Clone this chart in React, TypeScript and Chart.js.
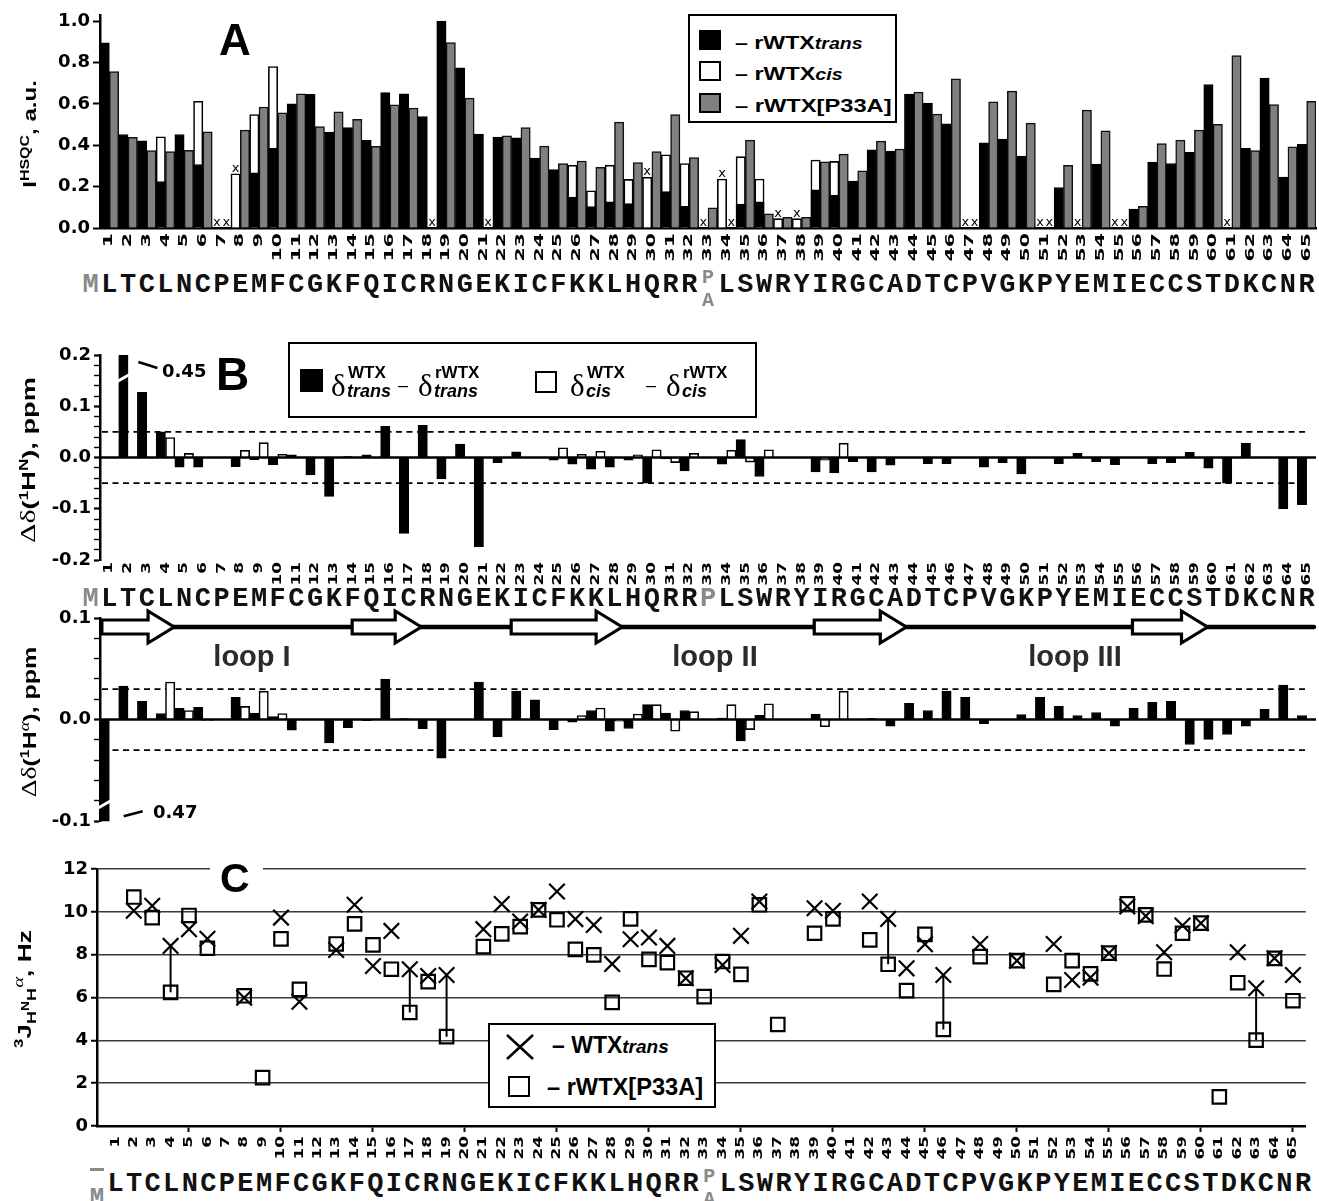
import React, { useEffect, useLayoutEffect, useRef, useState } from "react";
import { Chart, registerables } from "chart.js";

Chart.register(...registerables);

// ---------------- data ----------------
const residueLabels = [
  1, 2, 3, 4, 5, 6, 7, 8, 9, 10, 11, 12, 13, 14, 15, 16, 17, 18, 19, 20,
  21, 22, 23, 24, 25, 26, 27, 28, 29, 30, 31, 32, 33, 34, 35, 36, 37, 38, 39, 40,
  41, 42, 43, 44, 45, 46, 47, 48, 49, 50, 51, 52, 53, 54, 55, 56, 57, 58, 59, 60,
  61, 62, 63, 64, 65,
];
const sequence = "MLTCLNCPEMFCGKFQICRNGEKICFKKLHQRRPLSWRYIRGCADTCPVGKPYEMIECCSTDKCNR";

// Panel A: I(HSQC), a.u.
const hsqcTrans = [
  0.895, 0.452, 0.422, 0.225, 0.452, 0.307, null, null, 0.267, 0.386,
  0.601, 0.646, 0.464, 0.485, 0.424, 0.655, 0.649, 0.539, 1.0, 0.775,
  0.454, 0.44, 0.436, 0.338, 0.282, 0.15, 0.103, 0.127, 0.118, null,
  0.176, 0.105, null, null, 0.116, 0.126, null, null, 0.184, 0.158,
  0.227, 0.378, 0.372, 0.647, 0.604, 0.504, null, 0.412, 0.43, 0.348,
  null, 0.196, null, 0.309, null, 0.092, 0.319, 0.312, 0.366, 0.694,
  null, 0.385, 0.725, 0.246, 0.404,
];
const hsqcCis = [
  null, null, null, 0.441, null, 0.613, null, 0.262, 0.549, 0.781,
  null, null, null, null, null, null, null, null, null, null,
  null, null, null, null, null, 0.303, 0.18, 0.304, 0.235, 0.245,
  0.354, 0.312, null, 0.237, 0.345, 0.237, 0.045, 0.045, 0.329, 0.322,
  null, null, null, null, null, null, null, null, null, null,
  null, null, null, null, null, null, null, null, null, null,
  null, null, null, null, null,
];
const hsqcP33A = [
  0.757, 0.438, 0.374, 0.37, 0.375, 0.465, null, 0.473, 0.585, 0.557,
  0.649, 0.491, 0.562, 0.525, 0.395, 0.596, 0.58, null, 0.897, 0.628,
  null, 0.446, 0.485, 0.396, 0.312, 0.324, 0.293, 0.512, 0.316, 0.369,
  0.549, 0.34, 0.098, null, 0.425, 0.068, 0.052, 0.052, 0.32, 0.357,
  0.277, 0.42, 0.382, 0.657, 0.551, 0.721, null, 0.61, 0.662, 0.507,
  null, 0.303, 0.57, 0.47, null, 0.105, 0.408, 0.425, 0.473, 0.501,
  0.834, 0.374, 0.597, 0.393, 0.613,
];

// Panel B: delta delta (1H N), ppm
const dHNtrans = [
  null, 0.45, 0.127, 0.05, -0.019, -0.019, null, -0.018, -0.004, -0.014,
  0.005, -0.034, -0.076, 0.002, 0.005, 0.061, -0.148, 0.063, -0.042, 0.026,
  -0.174, -0.01, 0.011, null, -0.005, -0.013, -0.023, -0.019, -0.005, -0.05,
  -0.003, -0.026, null, -0.013, 0.035, -0.037, null, null, -0.028, -0.03,
  -0.008, -0.028, -0.015, null, -0.012, -0.012, null, -0.019, -0.01, -0.032,
  null, -0.012, 0.008, -0.008, -0.014, null, -0.012, -0.01, 0.01, -0.021,
  -0.05, 0.028, 0.001, -0.1, -0.092,
];
const dHNcis = [
  null, null, null, 0.039, 0.008, null, null, 0.014, 0.029, 0.006,
  null, null, null, null, null, null, null, null, null, null,
  null, null, null, null, 0.019, 0.006, 0.012, null, 0.005, 0.015,
  -0.01, 0.008, null, 0.014, -0.009, 0.015, null, null, -0.005, 0.028,
  null, null, null, null, null, null, null, null, null, null,
  null, null, null, null, null, null, null, null, null, null,
  null, null, null, null, null,
];
// Panel B: delta delta (1H alpha), ppm
const dHAtrans = [
  -0.47, 0.033, 0.018, 0.006, 0.011, 0.012, null, 0.022, 0.0065, 0.003,
  -0.0105, null, -0.023, -0.008, -0.001, 0.04, 0.001, -0.009, -0.038, null,
  0.037, -0.017, 0.028, 0.0195, -0.0098, -0.0026, 0.009, -0.0114, -0.0088, 0.0147,
  0.0065, 0.009, null, 0.0016, -0.021, 0.0042, null, null, 0.0055, null,
  null, 0.001, -0.0065, 0.016, 0.009, 0.028, 0.022, -0.004, null, 0.005,
  0.022, 0.013, 0.004, 0.007, -0.0065, 0.011, 0.017, 0.018, -0.0245, -0.0195,
  -0.0147, -0.0065, 0.01, 0.034, 0.004,
];
const dHAcis = [
  null, null, null, 0.037, 0.009, -0.001, null, 0.013, 0.028, 0.006,
  null, null, null, null, null, null, null, null, null, null,
  null, null, null, null, null, 0.004, 0.0114, -0.0016, 0.0055, 0.0147,
  -0.0114, 0.0078, null, 0.0147, -0.0098, 0.0156, null, null, -0.007, 0.028,
  null, null, null, null, null, null, null, null, null, null,
  null, null, null, null, null, null, null, null, null, null,
  null, null, null, null, null,
];
// beta strands (start, end) in residue units
const betaStrands = [
  [0.6, 4.46],
  [13.98, 17.67],
  [22.48, 28.41],
  [38.68, 43.6],
  [55.69, 59.7],
];

// Panel C: 3J(HN-Halpha), Hz
const jTrans = [
  null, 10.05, 10.28, 8.41, 9.19, 8.74, null, 5.99, null, 9.73,
  5.8, null, 8.22, 10.33, 7.47, 9.11, 7.32, 7.0, 7.05, null,
  9.19, 10.36, 9.55, 10.09, 10.95, 9.66, 9.39, 7.57, 8.72, 8.8,
  8.41, 6.9, null, 7.52, 8.88, 10.48, null, null, 10.17, 10.05,
  null, 10.48, 9.67, 7.36, 8.49, 7.05, null, 8.5, null, 7.72,
  null, 8.5, 6.82, 6.93, 8.07, 10.25, 9.8, 8.11, 9.36, 9.47,
  null, 8.11, 6.43, 7.83, 7.05,
];
const jP33A = [
  null, 10.69, 9.73, 6.24, 9.83, 8.3, null, 6.08, 2.26, 8.74,
  6.38, null, 8.5, 9.44, 8.46, 7.32, 5.3, 6.74, 4.17, null,
  8.38, 8.97, 9.31, 10.09, 9.63, 8.25, 7.99, 5.77, 9.67, 7.78,
  7.63, 6.9, 6.04, 7.68, 7.08, 10.33, 4.74, null, 9.0, 9.67,
  null, 8.69, 7.55, 6.32, 8.95, 4.51, null, 7.91, null, 7.72,
  null, 6.61, 7.72, 7.1, 8.07, 10.37, 9.86, 7.33, 9.0, 9.47,
  1.36, 6.69, 4.01, 7.83, 5.85,
];
const jLinked = [4, 17, 19, 43, 46, 63];

// ---------------- helpers ----------------
const SANS = "'Liberation Sans', Arial, sans-serif";
const DEJAVU = "'DejaVu Sans', sans-serif";
const SERIF = "'Liberation Serif', 'DejaVu Serif', serif";
const MONO = "'Liberation Mono', 'DejaVu Sans Mono', monospace";
const GRAY = "#8a8a8a";
const tickFont = { family: "DejaVu Sans", size: 18, weight: "bold" as const };

const isMajor = (v: number) => Math.abs(v * 10 - Math.round(v * 10)) < 1e-6;
const fmt1 = (v: number) => (Math.abs(v) < 1e-9 ? "0.0" : Number(v).toFixed(1));

function rotatedLabels(id: string, xOf: (c: any, i: number) => number, gap: number, fontPx: number, stretch: number) {
  return {
    id,
    afterDraw(chart: any) {
      const { ctx, chartArea } = chart;
      ctx.save();
      ctx.fillStyle = "#000";
      ctx.font = `bold ${fontPx}px "DejaVu Sans"`;
      ctx.textAlign = "right";
      ctx.textBaseline = "middle";
      residueLabels.forEach((r, i) => {
        ctx.save();
        ctx.translate(xOf(chart, i), chartArea.bottom + gap);
        ctx.rotate(-Math.PI / 2);
        ctx.scale(stretch, 1);
        ctx.fillText(String(r), 0, 0);
        ctx.restore();
      });
      ctx.restore();
    },
  };
}
const catX = (c: any, i: number) => c.scales.x.getPixelForValue(i);
const linX = (c: any, i: number) => c.scales.x.getPixelForValue(residueLabels[i]);

function refLines(id: string, level: number) {
  return {
    id,
    beforeDatasetsDraw(chart: any) {
      const { ctx, chartArea: a, scales } = chart;
      const y = scales.y;
      ctx.save();
      ctx.strokeStyle = "#000";
      ctx.lineWidth = 1.6;
      ctx.setLineDash([6, 4.5]);
      [level, -level].forEach((v) => {
        const py = y.getPixelForValue(v);
        ctx.beginPath();
        ctx.moveTo(a.left + 2, py);
        ctx.lineTo(a.right - 7, py);
        ctx.stroke();
      });
      ctx.restore();
    },
    afterDatasetsDraw(chart: any) {
      const { ctx, chartArea: a, scales } = chart;
      const py = scales.y.getPixelForValue(0);
      ctx.save();
      ctx.strokeStyle = "#000";
      ctx.lineWidth = 2.5;
      ctx.beginPath();
      ctx.moveTo(a.left, py);
      ctx.lineTo(a.right, py);
      ctx.stroke();
      ctx.restore();
    },
  };
}

const missingMarks = {
  id: "missingMarks",
  afterDatasetsDraw(chart: any) {
    const { ctx, scales } = chart;
    const { x, y } = scales;
    const step = x.getPixelForValue(1) - x.getPixelForValue(0);
    ctx.save();
    ctx.font = '13px "DejaVu Sans"';
    ctx.fillStyle = "#000";
    ctx.textAlign = "center";
    ctx.textBaseline = "alphabetic";
    residueLabels.forEach((r, i) => {
      const c = x.getPixelForValue(i);
      if (hsqcTrans[i] == null) {
        const base = hsqcCis[i] == null ? 0 : (hsqcCis[i] as number);
        ctx.fillText("x", c - step / 4, y.getPixelForValue(base) - 2);
      }
      if (hsqcP33A[i] == null) ctx.fillText("x", c + step / 4, y.getPixelForValue(0) - 2);
    });
    ctx.restore();
  },
};

const breakTop = {
  id: "breakTop",
  afterDatasetsDraw(chart: any) {
    const { ctx, chartArea: a, scales } = chart;
    const x = scales.x;
    const step = x.getPixelForValue(1) - x.getPixelForValue(0);
    const cx = x.getPixelForValue(1) - step / 4;
    ctx.save();
    ctx.strokeStyle = "#fff";
    ctx.lineWidth = 3;
    ctx.beginPath();
    ctx.moveTo(cx - 7, a.top + 27);
    ctx.lineTo(cx + 7, a.top + 19);
    ctx.stroke();
    ctx.strokeStyle = "#000";
    ctx.lineWidth = 2.5;
    ctx.beginPath();
    ctx.moveTo(cx + 15, a.top + 7);
    ctx.lineTo(cx + 34, a.top + 13);
    ctx.stroke();
    ctx.restore();
  },
};

const breakBottom = {
  id: "breakBottom",
  afterDatasetsDraw(chart: any) {
    const { ctx, chartArea: a, scales } = chart;
    const x = scales.x;
    const step = x.getPixelForValue(1) - x.getPixelForValue(0);
    const cx = x.getPixelForValue(0) - step / 4;
    ctx.save();
    ctx.strokeStyle = "#fff";
    ctx.lineWidth = 3;
    ctx.beginPath();
    ctx.moveTo(cx - 7, a.bottom - 13);
    ctx.lineTo(cx + 7, a.bottom - 21);
    ctx.stroke();
    ctx.strokeStyle = "#000";
    ctx.lineWidth = 2.5;
    ctx.beginPath();
    ctx.moveTo(cx + 19, a.bottom - 5);
    ctx.lineTo(cx + 38, a.bottom - 10);
    ctx.stroke();
    ctx.restore();
  },
};

const strandsPlugin = {
  id: "strands",
  afterDraw(chart: any) {
    const { ctx, chartArea: a, scales } = chart;
    const x = scales.x;
    const step = x.getPixelForValue(1) - x.getPixelForValue(0);
    const px = (r: number) => x.getPixelForValue(0) + (r - 1) * step;
    const y = a.top + 9;
    ctx.save();
    ctx.strokeStyle = "#000";
    ctx.lineWidth = 4.5;
    ctx.lineCap = "round";
    ctx.beginPath();
    ctx.moveTo(a.left + 1, y);
    ctx.lineTo(a.right - 2, y);
    ctx.stroke();
    ctx.lineCap = "butt";
    ctx.lineJoin = "miter";
    ctx.lineWidth = 3.2;
    betaStrands.forEach(([s, e]) => {
      const x0 = px(s);
      const x1 = px(e);
      const xb = x1 - 26;
      ctx.beginPath();
      ctx.moveTo(x0, y - 7);
      ctx.lineTo(xb, y - 7);
      ctx.lineTo(xb, y - 16);
      ctx.lineTo(x1, y);
      ctx.lineTo(xb, y + 16);
      ctx.lineTo(xb, y + 7);
      ctx.lineTo(x0, y + 7);
      ctx.closePath();
      ctx.fillStyle = "#fff";
      ctx.fill();
      ctx.stroke();
    });
    ctx.restore();
  },
};

const baseOpts = {
  animation: false as const,
  responsive: false,
  maintainAspectRatio: false,
  events: [] as any[],
  plugins: { legend: { display: false }, tooltip: { enabled: false } },
};

const yAxisBase = (width: number) => ({
  border: { display: true, color: "#000", width: 2.5 },
  afterFit: (s: any) => {
    s.width = width;
  },
});

// ---------------- text helpers ----------------
function Fit({ x, y, len, rotate = false, anchor = "center", style, children }: any) {
  const ref = useRef<HTMLDivElement>(null);
  const [s, setS] = useState(1);
  useLayoutEffect(() => {
    const el = ref.current;
    if (el) {
      const w = el.offsetWidth;
      if (w > 0) setS(len / w);
    }
  }, [len]);
  const t =
    anchor === "center"
      ? `translate(-50%, -50%) ${rotate ? "rotate(-90deg) " : ""}scaleX(${s})`
      : `translate(0, -50%) scaleX(${s})`;
  return (
    <div
      ref={ref}
      style={{
        position: "absolute",
        left: x,
        top: y,
        whiteSpace: "nowrap",
        lineHeight: 1,
        transform: t,
        transformOrigin: anchor === "center" ? "50% 50%" : "0 50%",
        color: "#000",
        ...style,
      }}
    >
      {children}
    </div>
  );
}

function T({ x, base, size, family = SANS, weight = "bold", italic = false, color = "#000", center = false, asc = 0.8465, children }: any) {
  return (
    <span
      style={{
        position: "absolute",
        left: x,
        top: base - asc * size,
        fontSize: size,
        lineHeight: `${size}px`,
        fontFamily: family,
        fontWeight: weight,
        fontStyle: italic ? "italic" : "normal",
        color,
        whiteSpace: "pre",
        transform: center ? "translateX(-50%)" : undefined,
      }}
    >
      {children}
    </span>
  );
}

function SeqChar({ x, base, size, color, ch }: any) {
  return (
    <T x={x} base={base} size={size} family={MONO} color={color} center asc={0.766}>
      {ch}
    </T>
  );
}

function Sequence({ base, xOf, mode }: any) {
  const items: any[] = [];
  sequence.split("").forEach((ch, n) => {
    const x = xOf(n);
    if (n === 0) {
      if (mode === "C") {
        items.push(
          <div key="bar" style={{ position: "absolute", left: x - 7, top: base - 24, width: 14, height: 3, background: GRAY }} />
        );
        items.push(<SeqChar key={n} x={x} base={base + 12} size={24} color={GRAY} ch={ch} />);
      } else {
        items.push(<SeqChar key={n} x={x} base={base} size={27} color={GRAY} ch={ch} />);
      }
    } else if (n === 33) {
      if (mode === "B") {
        items.push(<SeqChar key={n} x={x} base={base} size={27} color={GRAY} ch={ch} />);
      } else {
        items.push(<SeqChar key="p" x={x} base={base - 10} size={20} color={GRAY} ch={ch} />);
        items.push(<SeqChar key="a" x={x} base={base + 13} size={20} color={GRAY} ch="A" />);
      }
    } else {
      items.push(<SeqChar key={n} x={x} base={base} size={27} color="#111" ch={ch} />);
    }
  });
  return <>{items}</>;
}

function DeltaTerm({ x, sup, sub }: any) {
  return (
    <>
      <T x={x} base={396} size={31} family={SERIF} weight="normal" asc={0.8375}>
        δ
      </T>
      <T x={x + 17} base={378} size={17}>
        {sup}
      </T>
      <T x={x + 16} base={397} size={18} italic>
        {sub}
      </T>
    </>
  );
}

// ---------------- app ----------------
const SLOT_AB = (1316 - 100) / 65;
const SLOT_C = (1316 - 97) / 65.7;
const xAB = (n: number) => 100 + (n - 0.5) * SLOT_AB;
const xC = (n: number) => 97 + n * SLOT_C;

export default function App() {
  const aRef = useRef<HTMLCanvasElement>(null);
  const bTopRef = useRef<HTMLCanvasElement>(null);
  const bBotRef = useRef<HTMLCanvasElement>(null);
  const cRef = useRef<HTMLCanvasElement>(null);

  useEffect(() => {
    const labels = residueLabels.map(String);
    const charts: Chart[] = [];

    // Panel A
    charts.push(
      new Chart(aRef.current as HTMLCanvasElement, {
        type: "bar",
        data: {
          labels,
          datasets: [
            { label: "rWTXtrans", data: hsqcTrans, backgroundColor: "#000", borderColor: "#000", borderWidth: 1, stack: "s1", barPercentage: 1, categoryPercentage: 1 },
            { label: "rWTXcis", data: hsqcCis, backgroundColor: "#fff", borderColor: "#000", borderWidth: 1.6, stack: "s1", barPercentage: 1, categoryPercentage: 1 },
            { label: "rWTX[P33A]", data: hsqcP33A, backgroundColor: "#808080", borderColor: "#111", borderWidth: 1.5, stack: "s2", barPercentage: 1, categoryPercentage: 1 },
          ],
        } as any,
        options: {
          ...baseOpts,
          layout: { padding: { top: 15, right: 3, left: 0, bottom: 0 } },
          scales: {
            x: {
              stacked: true,
              ticks: { display: false },
              grid: { display: false },
              border: { display: true, color: "#000", width: 2.5 },
              afterFit: (s: any) => {
                s.height = 42;
              },
            },
            y: {
              stacked: false,
              min: 0,
              max: 1.03,
              ticks: { stepSize: 0.2, includeBounds: false, autoSkip: false, font: tickFont, color: "#000", padding: 3, callback: (v: any) => fmt1(Number(v)) },
              grid: { drawOnChartArea: false, drawTicks: true, tickLength: 7, tickWidth: 2, tickColor: "#000" },
              ...yAxisBase(100),
            },
          },
        } as any,
        plugins: [missingMarks, rotatedLabels("lblA", catX, 5, 12, 1.7)],
      })
    );

    // Panel B top
    charts.push(
      new Chart(bTopRef.current as HTMLCanvasElement, {
        type: "bar",
        data: {
          labels,
          datasets: [
            { label: "trans", data: dHNtrans, backgroundColor: "#000", borderColor: "#000", borderWidth: 1, barPercentage: 1, categoryPercentage: 1 },
            { label: "cis", data: dHNcis, backgroundColor: "#fff", borderColor: "#000", borderWidth: 1.6, barPercentage: 1, categoryPercentage: 1 },
          ],
        } as any,
        options: {
          ...baseOpts,
          layout: { padding: { top: 25, right: 3, left: 0, bottom: 0 } },
          scales: {
            x: {
              ticks: { display: false },
              grid: { display: false },
              border: { display: false },
              afterFit: (s: any) => {
                s.height = 30;
              },
            },
            y: {
              min: -0.2,
              max: 0.2,
              ticks: { stepSize: 0.02, autoSkip: false, font: tickFont, color: "#000", padding: 3, callback: (v: any) => (isMajor(Number(v)) ? fmt1(Number(v)) : "") },
              grid: {
                drawOnChartArea: false,
                drawTicks: true,
                tickLength: 6,
                tickWidth: (c: any) => (c.tick && isMajor(c.tick.value) ? 2.2 : 1.4),
                tickColor: "#000",
              },
              ...yAxisBase(100),
            },
          },
        } as any,
        plugins: [refLines("refTop", 0.05), breakTop, rotatedLabels("lblB", catX, 2, 12, 1.4)],
      })
    );

    // Panel B bottom
    charts.push(
      new Chart(bBotRef.current as HTMLCanvasElement, {
        type: "bar",
        data: {
          labels,
          datasets: [
            { label: "trans", data: dHAtrans, backgroundColor: "#000", borderColor: "#000", borderWidth: 1, barPercentage: 1, categoryPercentage: 1 },
            { label: "cis", data: dHAcis, backgroundColor: "#fff", borderColor: "#000", borderWidth: 1.6, barPercentage: 1, categoryPercentage: 1 },
          ],
        } as any,
        options: {
          ...baseOpts,
          layout: { padding: { top: 18, right: 3, left: 0, bottom: 12 } },
          scales: {
            x: { display: false },
            y: {
              min: -0.1,
              max: 0.1,
              ticks: { stepSize: 0.02, autoSkip: false, font: tickFont, color: "#000", padding: 3, callback: (v: any) => (isMajor(Number(v)) ? fmt1(Number(v)) : "") },
              grid: {
                drawOnChartArea: false,
                drawTicks: true,
                tickLength: 6,
                tickWidth: (c: any) => (c.tick && isMajor(c.tick.value) ? 2.2 : 1.4),
                tickColor: "#000",
              },
              ...yAxisBase(100),
            },
          },
        } as any,
        plugins: [refLines("refBot", 0.03), breakBottom, strandsPlugin],
      })
    );

    // Panel C
    const transPts = residueLabels.map((r, i) => ({ x: r, y: jTrans[i] }));
    const p33aPts = residueLabels.map((r, i) => ({ x: r, y: jP33A[i] }));
    const linkPts: any[] = [];
    jLinked.forEach((r) => {
      linkPts.push({ x: r, y: jTrans[r - 1] });
      linkPts.push({ x: r, y: jP33A[r - 1] });
      linkPts.push({ x: r, y: null });
    });
    charts.push(
      new Chart(cRef.current as HTMLCanvasElement, {
        type: "scatter",
        data: {
          datasets: [
            { label: "WTXtrans", data: transPts, pointStyle: "crossRot", pointRadius: 11, borderWidth: 2.2, pointBorderWidth: 2.2, borderColor: "#000", backgroundColor: "#000" },
            { label: "rWTX[P33A]", data: p33aPts, pointStyle: "rect", pointRadius: 9.5, borderWidth: 2.2, pointBorderWidth: 2.2, borderColor: "#000", backgroundColor: "rgba(0,0,0,0)" },
            { type: "line", label: "link", data: linkPts, borderColor: "#000", borderWidth: 2, pointRadius: 0, spanGaps: false, showLine: true, fill: false },
          ],
        } as any,
        options: {
          ...baseOpts,
          layout: { padding: { top: 19, right: 3, left: 0, bottom: 0 } },
          scales: {
            x: {
              type: "linear",
              min: 0,
              max: 65.7,
              ticks: { display: false, stepSize: 1, includeBounds: false, autoSkip: false },
              grid: {
                drawOnChartArea: false,
                drawTicks: true,
                tickLength: 6,
                tickWidth: 2,
                tickColor: (c: any) => (c.tick && c.tick.value > 0 && c.tick.value % 5 === 0 ? "#000" : "rgba(0,0,0,0)"),
              },
              border: { display: true, color: "#000", width: 2.5 },
              afterFit: (s: any) => {
                s.height = 39;
              },
            },
            y: {
              min: 0,
              max: 12,
              ticks: { stepSize: 2, autoSkip: false, font: tickFont, color: "#000", padding: 3 },
              grid: {
                color: (c: any) => (c.tick && c.tick.value === 0 ? "rgba(0,0,0,0)" : "#3a3a3a"),
                lineWidth: 1.5,
                drawTicks: true,
                tickLength: 6,
                tickWidth: 2,
                tickColor: "#000",
              },
              ...yAxisBase(97),
            },
          },
        } as any,
        plugins: [rotatedLabels("lblC", linX, 10, 12, 1.4)],
      })
    );

    return () => charts.forEach((c) => c.destroy());
  }, []);

  const cv = (top: number, h: number) => ({ position: "absolute" as const, left: 0, top, width: 1319, height: h });
  const legendBox = (left: number, top: number, w: number, h: number) => ({
    position: "absolute" as const,
    left,
    top,
    width: w,
    height: h,
    border: "2.5px solid #000",
    boxSizing: "border-box" as const,
    background: "#fff",
  });
  const sq = (left: number, top: number, bg: string) => ({
    position: "absolute" as const,
    left,
    top,
    width: 22,
    height: 20,
    border: "2px solid #000",
    boxSizing: "border-box" as const,
    background: bg,
  });

  return (
    <div style={{ position: "absolute", left: 0, top: 0, width: 1319, height: 1201, background: "#fff", overflow: "hidden", fontFamily: SANS }}>
      <canvas ref={aRef} width={1319} height={270} style={cv(0, 270)} />
      <canvas ref={bTopRef} width={1319} height={260} style={cv(330, 260)} />
      <canvas ref={bBotRef} width={1319} height={235} style={cv(600, 235)} />
      <canvas ref={cRef} width={1319} height={315} style={cv(850, 315)} />

      {/* axis titles */}
      <Fit x={29} y={134} len={108} rotate style={{ fontFamily: SANS, fontWeight: "bold", fontSize: 18 }}>
        I<span style={{ fontSize: 12, verticalAlign: 7 }}>HSQC</span>, a.u.
      </Fit>
      <Fit x={28} y={460} len={166} rotate style={{ fontFamily: SANS, fontWeight: "bold", fontSize: 19 }}>
        <span style={{ fontFamily: SERIF, fontWeight: "normal", fontSize: 21 }}>Δδ</span>(<span style={{ fontSize: 12, verticalAlign: 7 }}>1</span>H
        <span style={{ fontSize: 12, verticalAlign: 7 }}>N</span>), ppm
      </Fit>
      <Fit x={29} y={722} len={151} rotate style={{ fontFamily: SANS, fontWeight: "bold", fontSize: 19 }}>
        <span style={{ fontFamily: SERIF, fontWeight: "normal", fontSize: 21 }}>Δδ</span>(<span style={{ fontSize: 12, verticalAlign: 7 }}>1</span>H
        <span style={{ fontFamily: SERIF, fontStyle: "italic", fontWeight: "normal", fontSize: 14, verticalAlign: 7 }}>α</span>), ppm
      </Fit>
      <Fit x={24} y={989} len={118} rotate style={{ fontFamily: SANS, fontWeight: "bold", fontSize: 19 }}>
        <span style={{ fontSize: 12, verticalAlign: 8 }}>3</span>J
        <span style={{ fontSize: 13, verticalAlign: -5 }}>
          H<span style={{ fontSize: 10, verticalAlign: 7 }}>N</span>H
        </span>
        <span style={{ fontFamily: SERIF, fontStyle: "italic", fontWeight: "normal", fontSize: 15, verticalAlign: 8 }}>α</span>, Hz
      </Fit>

      {/* panel letters */}
      <T x={219} base={55} size={44}>A</T>
      <T x={216} base={390} size={46}>B</T>
      <div style={{ position: "absolute", left: 210, top: 858, width: 53, height: 22, background: "#fff" }} />
      <T x={220} base={893} size={41}>C</T>

      {/* legend A */}
      <div style={legendBox(688, 14, 209, 109)} />
      <div style={sq(699, 30, "#000")} />
      <div style={sq(699, 61, "#fff")} />
      <div style={sq(699, 93, "#808080")} />
      <Fit x={735} y={42} len={128} anchor="left" style={{ fontFamily: SANS, fontWeight: "bold", fontSize: 19 }}>
        – rWTX<span style={{ fontStyle: "italic", fontSize: 16 }}>trans</span>
      </Fit>
      <Fit x={735} y={73} len={108} anchor="left" style={{ fontFamily: SANS, fontWeight: "bold", fontSize: 19 }}>
        – rWTX<span style={{ fontStyle: "italic", fontSize: 16 }}>cis</span>
      </Fit>
      <Fit x={735} y={105} len={157} anchor="left" style={{ fontFamily: SANS, fontWeight: "bold", fontSize: 19 }}>
        – rWTX[P33A]
      </Fit>

      {/* legend B */}
      <div style={legendBox(288, 342, 469, 76)} />
      <div style={{ position: "absolute", left: 300, top: 369, width: 23, height: 23, background: "#000" }} />
      <DeltaTerm x={331} sup="WTX" sub="trans" />
      <T x={398} base={391} size={18} weight="normal">–</T>
      <DeltaTerm x={418} sup="rWTX" sub="trans" />
      <div style={{ position: "absolute", left: 535, top: 371, width: 22, height: 22, border: "2px solid #000", boxSizing: "border-box", background: "#fff" }} />
      <DeltaTerm x={570} sup="WTX" sub="cis" />
      <T x={646} base={391} size={18} weight="normal">–</T>
      <DeltaTerm x={666} sup="rWTX" sub="cis" />

      {/* break labels */}
      <T x={162} base={377} size={18} family={DEJAVU} asc={0.846}>0.45</T>
      <T x={153} base={818} size={18} family={DEJAVU} asc={0.846}>0.47</T>

      {/* loop labels */}
      <T x={252} base={667} size={29} color="#2b2b2b" center>loop I</T>
      <T x={715} base={667} size={29} color="#2b2b2b" center>loop II</T>
      <T x={1075} base={667} size={29} color="#2b2b2b" center>loop III</T>

      {/* legend C */}
      <div style={legendBox(488, 1023, 228, 85)} />
      <svg style={{ position: "absolute", left: 505, top: 1033, width: 30, height: 28 }} width={30} height={28}>
        <line x1={2} y1={2} x2={28} y2={26} stroke="#000" strokeWidth={2.6} />
        <line x1={28} y1={2} x2={2} y2={26} stroke="#000" strokeWidth={2.6} />
      </svg>
      <div style={{ position: "absolute", left: 508, top: 1076, width: 22, height: 21, border: "2.5px solid #000", boxSizing: "border-box" }} />
      <Fit x={552} y={1045} len={117} anchor="left" style={{ fontFamily: SANS, fontWeight: "bold", fontSize: 23 }}>
        – WTX<span style={{ fontStyle: "italic", fontSize: 19 }}>trans</span>
      </Fit>
      <Fit x={547} y={1087} len={156} anchor="left" style={{ fontFamily: SANS, fontWeight: "bold", fontSize: 23 }}>
        – rWTX[P33A]
      </Fit>

      {/* sequences */}
      <Sequence base={293} xOf={xAB} mode="A" />
      <Sequence base={607} xOf={xAB} mode="B" />
      <Sequence base={1192} xOf={xC} mode="C" />
    </div>
  );
}
